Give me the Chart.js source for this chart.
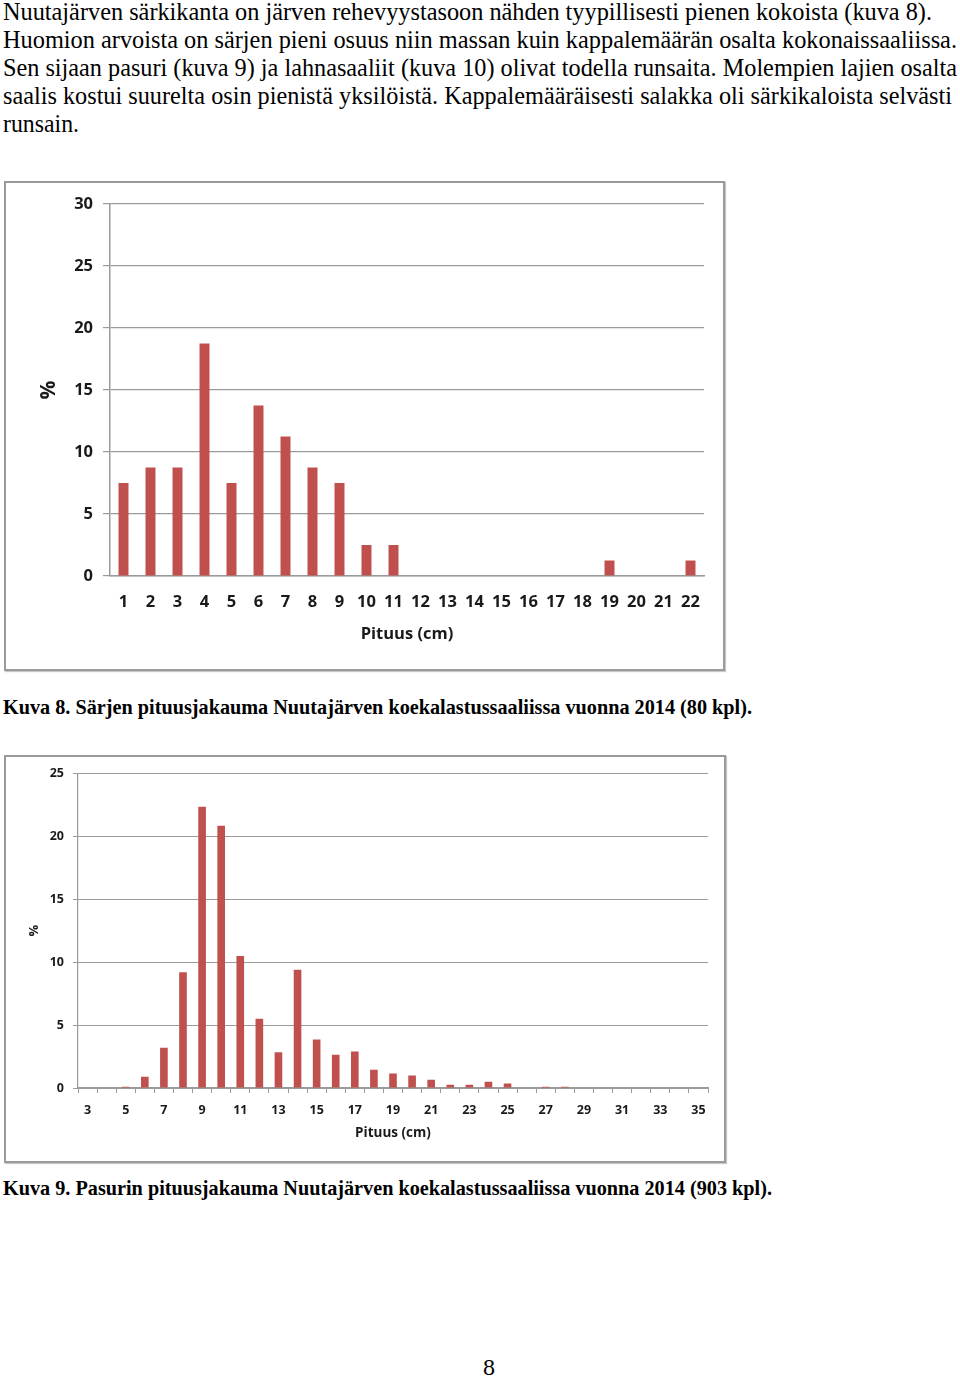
<!DOCTYPE html>
<html><head><meta charset="utf-8">
<script src="https://cdn.jsdelivr.net/npm/chart.js@4.4.1/dist/chart.umd.min.js"></script>
<style>
html,body{margin:0;padding:0;background:#fff;}
body{width:960px;height:1376px;position:relative;overflow:hidden;}
.ln{position:absolute;left:3px;white-space:nowrap;font-family:"Liberation Serif","Times New Roman",serif;font-size:26px;line-height:28px;color:#000;transform-origin:0 0;}
.cap{position:absolute;left:3px;white-space:nowrap;font-family:"Liberation Serif",serif;font-weight:bold;font-size:21px;line-height:24px;transform-origin:0 0;}
.box{position:absolute;border:2px solid #9a9a9a;background:#fff;box-shadow:1px 1px 1px #c8c8c8;}
.box canvas{display:block;}
#pg{position:absolute;left:0;width:978px;text-align:center;top:1355px;font-family:"Liberation Serif",serif;font-size:24px;line-height:24px;}
</style></head><body>
<div class="ln" data-w="929" style="top:-2px">Nuutajärven särkikanta on järven rehevyystasoon nähden tyypillisesti pienen kokoista (kuva 8).</div>
<div class="ln" data-w="954" style="top:26px">Huomion arvoista on särjen pieni osuus niin massan kuin kappalemäärän osalta kokonaissaaliissa.</div>
<div class="ln" data-w="954" style="top:54px">Sen sijaan pasuri (kuva 9) ja lahnasaaliit (kuva 10) olivat todella runsaita. Molempien lajien osalta</div>
<div class="ln" data-w="949" style="top:82px">saalis kostui suurelta osin pienistä yksilöistä. Kappalemääräisesti salakka oli särkikaloista selvästi</div>
<div class="ln" data-w="76" style="top:110px">runsain.</div>

<div class="box" style="left:4px;top:181px;width:717px;height:486px;"><canvas id="c1" width="717" height="486"></canvas></div>
<div class="cap" data-w="749" style="top:695px">Kuva 8. Särjen pituusjakauma Nuutajärven koekalastussaaliissa vuonna 2014 (80 kpl).</div>

<div class="box" style="left:4px;top:755px;width:718px;height:404px;"><canvas id="c2" width="718" height="404"></canvas></div>
<div class="cap" data-w="769" style="top:1176px">Kuva 9. Pasurin pituusjakauma Nuutajärven koekalastussaaliissa vuonna 2014 (903 kpl).</div>
<div id="pg">8</div>

<script>
// ---- Data ----
const roachLengths = ['1','2','3','4','5','6','7','8','9','10','11','12','13','14','15','16','17','18','19','20','21','22'];
const roachPercent = [7.5,8.75,8.75,18.75,7.5,13.75,11.25,8.75,7.5,2.5,2.5,0,0,0,0,0,0,0,1.25,0,0,1.25];
const roachYTicks = [0,5,10,15,20,25,30];

const breamLengths = ['3','4','5','6','7','8','9','10','11','12','13','14','15','16','17','18','19','20','21','22','23','24','25','26','27','28','29','30','31','32','33','34','35'];
const breamPercent = [0,0,0.1,0.89,3.2,9.2,22.35,20.85,10.5,5.5,2.85,9.4,3.85,2.65,2.9,1.45,1.15,1.0,0.65,0.25,0.25,0.5,0.35,0,0.1,0.1,0,0,0,0,0,0,0];
const breamYTicks = [0,5,10,15,20,25];

const axisTitle = 'Pituus (cm)';
const yTitle = '%';

// fit text lines
document.querySelectorAll('[data-w]').forEach(el=>{
  const w = el.getBoundingClientRect().width;
  el.style.transform = 'scaleX(' + (parseFloat(el.dataset.w)/w) + ')';
});

const RED = '#c0504d';
const GRID = '#9a9a9a';
const FONT = '"Open Sans", "Noto Sans", sans-serif';
Chart.defaults.animation = false;

new Chart(document.getElementById('c1'), {
  type:'bar',
  data:{labels:roachLengths, datasets:[{data:roachPercent, backgroundColor:RED, barPercentage:0.37, categoryPercentage:1}]},
  options:{
    responsive:false, devicePixelRatio:1,
    layout:{padding:{left:30,right:19,top:21,bottom:25}},
    plugins:{legend:{display:false}, tooltip:{enabled:false}},
    scales:{
      x:{
        afterFit:s=>{s.height=68;},
        grid:{display:false},
        border:{color:GRID,width:1.5},
        ticks:{color:'#1a1a1a',font:{family:FONT,weight:'bold',size:16.5},padding:8,maxRotation:0,autoSkip:false},
        title:{display:true,text:axisTitle,color:'#1a1a1a',font:{family:FONT,weight:'bold',size:16.5},padding:{top:12,bottom:0}}
      },
      y:{
        min:0,max:30,
        afterBuildTicks:s=>{s.ticks=roachYTicks.map(v=>({value:v}));},
        afterFit:s=>{s.width=74;},
        grid:{color:GRID,lineWidth:1.2,tickLength:7},
        border:{color:GRID,width:1.5},
        ticks:{color:'#1a1a1a',font:{family:FONT,weight:'bold',size:16.5},padding:10},
        title:{display:true,text:yTitle,color:'#1a1a1a',font:{family:FONT,weight:'bold',size:21},padding:0}
      }
    }
  }
});

new Chart(document.getElementById('c2'), {
  type:'bar',
  data:{labels:breamLengths, datasets:[{data:breamPercent, backgroundColor:RED, barPercentage:0.4, categoryPercentage:1}]},
  options:{
    responsive:false, devicePixelRatio:1,
    layout:{padding:{left:20,right:16,top:15,bottom:20}},
    plugins:{legend:{display:false}, tooltip:{enabled:false}},
    scales:{
      x:{
        afterFit:s=>{s.height=53;},
        grid:{display:true,drawOnChartArea:false,color:GRID,tickLength:5,offset:true},
        border:{color:GRID,width:1.2},
        ticks:{color:'#1a1a1a',font:{family:FONT,weight:'bold',size:12.5},padding:10,maxRotation:0,autoSkip:false,
          callback:(v,i)=> i%2===0 ? breamLengths[i] : ''},
        title:{display:true,text:axisTitle,color:'#1a1a1a',font:{family:FONT,weight:'bold',size:13.5},padding:{top:3,bottom:0}}
      },
      y:{
        min:0,max:25,
        afterBuildTicks:s=>{s.ticks=breamYTicks.map(v=>({value:v}));},
        afterFit:s=>{s.width=52;},
        grid:{color:GRID,lineWidth:1,tickLength:5},
        border:{color:GRID,width:1.2},
        ticks:{color:'#1a1a1a',font:{family:FONT,weight:'bold',size:12.5},padding:9},
        title:{display:true,text:yTitle,color:'#1a1a1a',font:{family:FONT,weight:'bold',size:13},padding:0}
      }
    }
  }
});
</script>
</body></html>
